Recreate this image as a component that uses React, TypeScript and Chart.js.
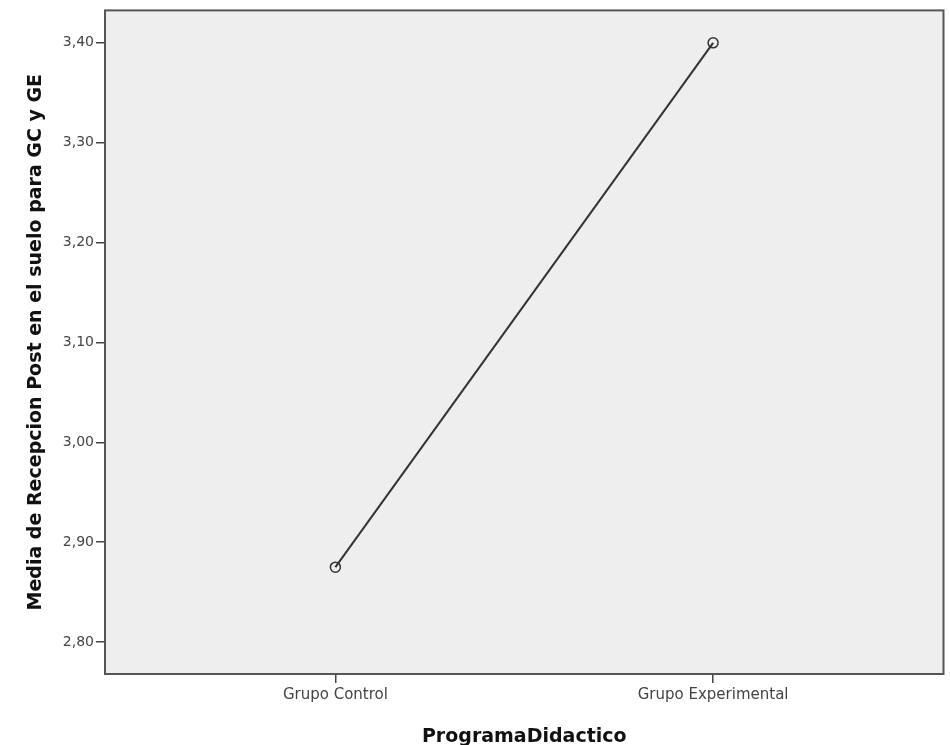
import React, { useEffect, useRef } from "react";
import { Chart, registerables } from "chart.js";

Chart.register(...registerables);

const categories = ["Grupo Control", "Grupo Experimental"];
const categoryPositions = [1, 2];
const means = [2.875, 3.4];
const yTickValues = [2.8, 2.9, 3.0, 3.1, 3.2, 3.3, 3.4];
const yTitle = "Media de Recepcion Post en el suelo para GC y GE";
const xTitle = "ProgramaDidactico";

const FONT = "'DejaVu Sans', Verdana, sans-serif";

const plotBg = {
  id: "plotBg",
  beforeDraw(chart: any) {
    const { ctx, chartArea } = chart;
    ctx.save();
    ctx.fillStyle = "#eeeeee";
    ctx.fillRect(chartArea.left, chartArea.top, chartArea.right - chartArea.left, chartArea.bottom - chartArea.top);
    ctx.restore();
  },
  afterDraw(chart: any) {
    const { ctx, chartArea } = chart;
    ctx.save();
    ctx.strokeStyle = "#555555";
    ctx.lineWidth = 2;
    ctx.strokeRect(chartArea.left, chartArea.top, chartArea.right - chartArea.left, chartArea.bottom - chartArea.top);
    ctx.restore();
  },
};

export default function App() {
  const ref = useRef<HTMLCanvasElement>(null);
  useEffect(() => {
    document.body.style.margin = "0";
    const chart = new Chart(ref.current!, {
      type: "line",
      data: {
        datasets: [
          {
            data: categoryPositions.map((x, i) => ({ x, y: means[i] })),
            borderColor: "#333333",
            borderWidth: 2,
            pointRadius: 5,
            pointBorderWidth: 1.5,
            pointBorderColor: "#333333",
            pointBackgroundColor: "rgba(0,0,0,0)",
            tension: 0,
          },
        ],
      },
      plugins: [plotBg],
      options: {
        animation: false,
        responsive: false,
        layout: { padding: { top: 10, right: 6, left: 0, bottom: 0 } },
        plugins: { legend: { display: false }, tooltip: { enabled: false } },
        scales: {
          x: {
            type: "linear",
            min: 0.39,
            max: 2.61,
            afterBuildTicks: (axis: any) => {
              axis.ticks = categoryPositions.map((v) => ({ value: v }));
            },
            afterFit: (axis: any) => {
              axis.height = 71;
            },
            ticks: {
              callback: (v: any) => {
                const i = categoryPositions.indexOf(Number(v));
                return i >= 0 ? categories[i] : "";
              },
              font: { family: FONT, size: 15 },
              color: "#444444",
              padding: 3,
              maxRotation: 0,
              autoSkip: false,
            },
            grid: { drawOnChartArea: false, tickLength: 9, color: "#444444", lineWidth: 1.5 },
            border: { display: false },
            title: {
              display: true,
              text: xTitle,
              font: { family: FONT, size: 19, weight: "bold", lineHeight: 0.85 },
              color: "#111111",
              padding: { top: 4, bottom: 0 },
            },
          },
          y: {
            type: "linear",
            min: 2.768,
            max: 3.4325,
            afterBuildTicks: (axis: any) => {
              axis.ticks = yTickValues.map((v) => ({ value: v }));
            },
            afterFit: (axis: any) => {
              axis.width = 105;
            },
            ticks: {
              callback: (v: any) => Number(v).toFixed(2).replace(".", ","),
              font: { family: FONT, size: 14 },
              color: "#444444",
              padding: 2,
            },
            grid: { drawOnChartArea: false, tickLength: 9, color: "#444444", lineWidth: 1.5 },
            border: { display: false },
            title: {
              display: true,
              text: yTitle,
              font: { family: FONT, size: 19, weight: "bold" },
              color: "#111111",
              padding: { top: 25, bottom: 0 },
            },
          },
        },
      },
    });
    return () => chart.destroy();
  }, []);
  return (
    <div style={{ width: 950, height: 745 }}>
      <canvas ref={ref} width={950} height={745} />
    </div>
  );
}
